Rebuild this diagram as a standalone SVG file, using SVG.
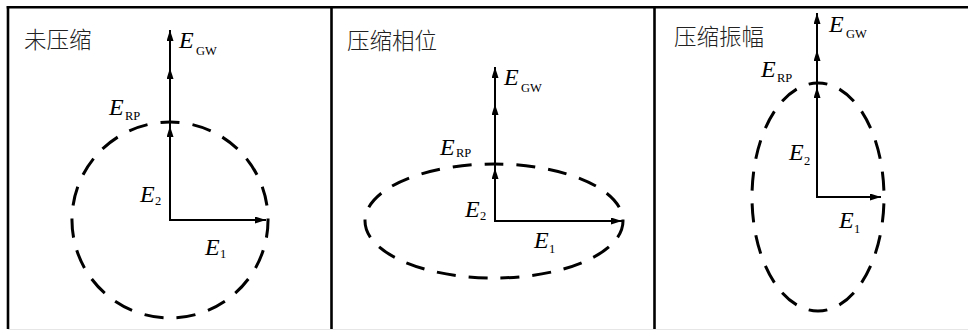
<svg xmlns="http://www.w3.org/2000/svg" width="968" height="331" viewBox="0 0 968 331">
<defs>
<marker id="ah" markerUnits="userSpaceOnUse" markerWidth="12" markerHeight="8" refX="11" refY="3.5" orient="auto">
<path d="M0,0 L11,3.5 L0,7 Z" fill="#000"/>
</marker>
<style>
.frame{stroke:#000;stroke-width:2.6;fill:none}
.ax{stroke:#000;stroke-width:2;fill:none;marker-end:url(#ah)}
.ell{stroke:#000;stroke-width:3;fill:none;stroke-dasharray:19 13;stroke-dashoffset:9.5}
.title{font-family:"Noto Sans CJK SC","Noto Sans",sans-serif;font-size:22.5px;font-weight:300;fill:#222}
.E{font-family:"Liberation Serif",serif;font-style:italic;font-size:24px;fill:#000}
.sub{font-family:"Liberation Serif",serif;font-size:12.5px;fill:#000}
</style>
</defs>
<rect width="968" height="331" fill="#fff"/>
<g id="frame">
<line class="frame" x1="6.7" y1="7.3" x2="968" y2="7.3"/>
<line class="frame" x1="8" y1="6" x2="8" y2="329"/>
<line class="frame" x1="331.5" y1="6" x2="331.5" y2="329"/>
<line class="frame" x1="654.5" y1="6" x2="654.5" y2="329"/>
<line x1="8" y1="329.5" x2="968" y2="329.5" stroke="#e6e6e6" stroke-width="1"/>
</g>
<g id="panel1">
<text class="title" x="24" y="48">未压缩</text>
<path class="ell" pathLength="608" d="M170,122 A98,98 0 1 1 170,318 A98,98 0 1 1 170,122 Z"/>
<g id="connectors1">
<line class="ax" x1="170" y1="220" x2="266" y2="220"/>
<line class="ax" x1="170" y1="221" x2="170" y2="126"/>
<line class="ax" x1="170" y1="126" x2="170" y2="68"/>
<line class="ax" x1="170" y1="68" x2="170" y2="30"/>
</g>
<text class="E" x="179" y="48">E</text><text class="sub" x="196" y="55">GW</text>
<text class="E" x="109" y="115">E</text><text class="sub" x="125" y="120">RP</text>
<text class="E" x="140" y="202">E</text><text class="sub" x="155" y="205">2</text>
<text class="E" x="205" y="255">E</text><text class="sub" x="220" y="258">1</text>
</g>
<g id="panel2">
<text class="title" x="347" y="49">压缩相位</text>
<path class="ell" pathLength="608" d="M494,164 A129,57 0 1 1 494,278 A129,57 0 1 1 494,164 Z"/>
<g id="connectors2">
<line class="ax" x1="495" y1="221" x2="622" y2="221"/>
<line class="ax" x1="495" y1="222" x2="495" y2="168"/>
<line class="ax" x1="495" y1="168" x2="495" y2="104"/>
<line class="ax" x1="495" y1="104" x2="495" y2="67"/>
</g>
<text class="E" x="504" y="85">E</text><text class="sub" x="521" y="92">GW</text>
<text class="E" x="440" y="155">E</text><text class="sub" x="456" y="157">RP</text>
<text class="E" x="465" y="217">E</text><text class="sub" x="480" y="220">2</text>
<text class="E" x="534" y="248">E</text><text class="sub" x="549" y="253">1</text>
</g>
<g id="panel3">
<text class="title" x="674" y="45">压缩振幅</text>
<path class="ell" pathLength="576" d="M818,83 A66,114 0 1 1 818,311 A66,114 0 1 1 818,83 Z"/>
<g id="connectors3">
<line class="ax" x1="817" y1="197" x2="881" y2="197"/>
<line class="ax" x1="817" y1="198" x2="817" y2="87"/>
<line class="ax" x1="817" y1="87" x2="817" y2="50"/>
<line class="ax" x1="817" y1="50" x2="817" y2="13"/>
</g>
<text class="E" x="829" y="32">E</text><text class="sub" x="846" y="38">GW</text>
<text class="E" x="761" y="77">E</text><text class="sub" x="777" y="82">RP</text>
<text class="E" x="789" y="160">E</text><text class="sub" x="804" y="165">2</text>
<text class="E" x="839" y="228">E</text><text class="sub" x="854" y="233">1</text>
</g>
</svg>
